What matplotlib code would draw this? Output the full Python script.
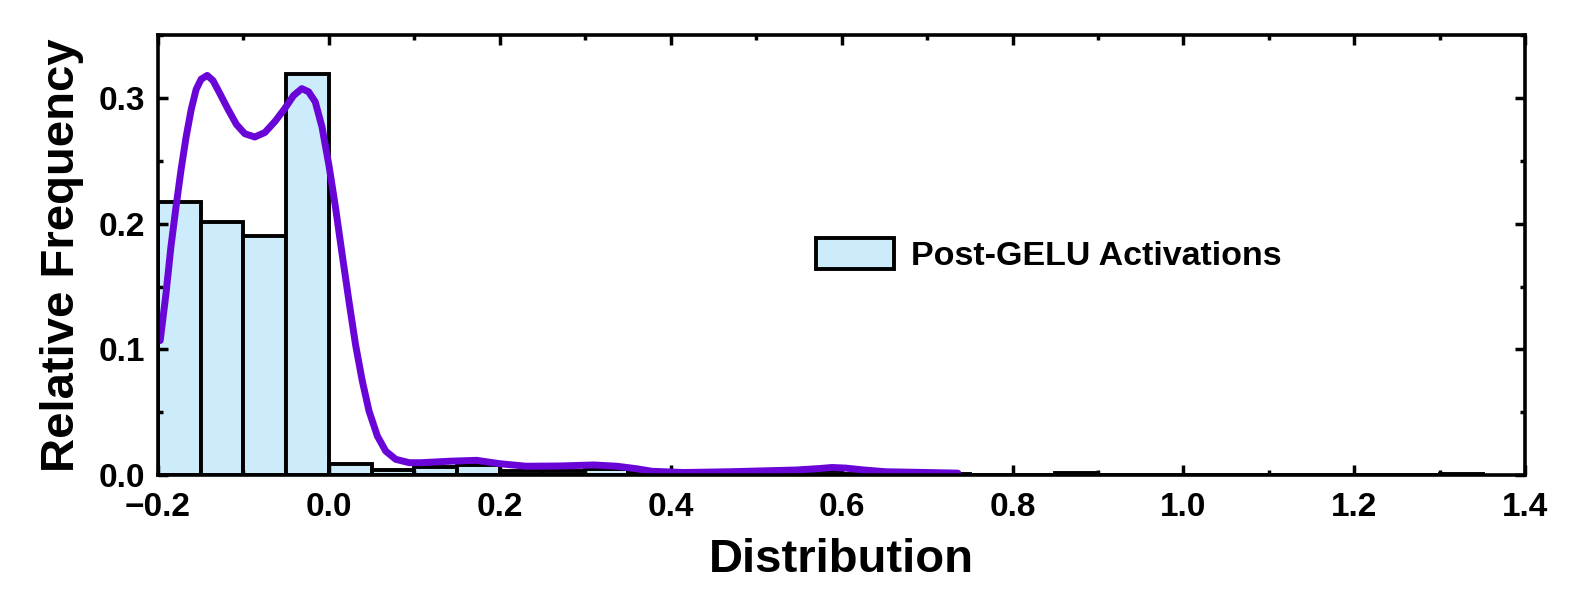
import matplotlib.pyplot as plt
import numpy as np

plt.rcParams['font.family'] = ['Liberation Sans', 'DejaVu Sans']
plt.rcParams['font.weight'] = 'bold'

# histogram bins (width 0.05) and relative frequencies
bin_edges = [-0.2, -0.15, -0.1, -0.05, 0.0, 0.05, 0.1, 0.15, 0.2, 0.25, 0.3, 0.35,
             0.4, 0.45, 0.5, 0.55, 0.6, 0.65, 0.7, 0.75, 0.8, 0.85, 0.9, 0.95,
             1.0, 1.05, 1.1, 1.15, 1.2, 1.25, 1.3, 1.35]
rel_freq = [0.2175, 0.2015, 0.190, 0.3195, 0.0085, 0.004, 0.006, 0.0077, 0.0032, 0.003, 0.0045,
            0.002, 0.001, 0.001, 0.001, 0.003, 0.001, 0.001, 0.001, 0.0, 0.0, 0.002, 0.0,
            0.0, 0.0, 0.0, 0.0, 0.0, 0.0, 0.0, 0.001]

# density curve
kde_x = [-0.1973, -0.1906, -0.1847, -0.1788, -0.1729, -0.167, -0.161, -0.1552, -0.1494,
         -0.1423, -0.1356, -0.1278, -0.1179, -0.1081, -0.0983, -0.0866, -0.0748, -0.063,
         -0.0512, -0.0413, -0.0316, -0.0237, -0.0159, -0.008, 0.0, 0.0077, 0.0155, 0.0234,
         0.0312, 0.0391, 0.047, 0.0568, 0.0666, 0.0783, 0.0941, 0.108, 0.142, 0.173, 0.200,
         0.231, 0.270, 0.310, 0.337, 0.360, 0.378, 0.415, 0.468, 0.547, 0.575, 0.589, 0.605,
         0.626, 0.652, 0.700, 0.736]
kde_y = [0.107, 0.144, 0.182, 0.2135, 0.243, 0.269, 0.291, 0.307, 0.315,
         0.318, 0.314, 0.304, 0.291, 0.279, 0.2716, 0.269, 0.2726, 0.2814,
         0.292, 0.302, 0.3075, 0.305, 0.297, 0.277, 0.247, 0.2135, 0.176, 0.139,
         0.104, 0.075, 0.051, 0.031, 0.019, 0.0125, 0.0098, 0.0098, 0.011, 0.0117, 0.009,
         0.007, 0.0072, 0.008, 0.007, 0.005, 0.003, 0.002, 0.0026, 0.004, 0.0052, 0.006, 0.0055,
         0.004, 0.0026, 0.002, 0.0015]

fig = plt.figure(figsize=(15.79, 5.94), dpi=100)
ax = fig.add_axes([0.1, 0.2003, 0.866, 0.7404])

ax.bar(bin_edges[:-1], rel_freq, width=np.diff(bin_edges), align='edge',
       color='#CCEBFB', edgecolor='black', linewidth=2.8, label='Post-GELU Activations')
ax.plot(kde_x, kde_y, color='#6A05D8', linewidth=5.0,
        solid_capstyle='round', solid_joinstyle='round')

ax.set_xlim(-0.2, 1.4)
ax.set_ylim(0, 0.35)
ax.set_xticks(np.arange(-0.2, 1.41, 0.2))
ax.set_xticks(np.arange(-0.2, 1.41, 0.1), minor=True)
ax.set_yticks([0.0, 0.1, 0.2, 0.3])
ax.set_yticks(np.arange(0, 0.351, 0.05), minor=True)
ax.set_xticklabels(['\u22120.2', '0.0', '0.2', '0.4', '0.6', '0.8', '1.0', '1.2', '1.4'])
ax.set_yticklabels(['0.0', '0.1', '0.2', '0.3'])

ax.tick_params(which='both', direction='in', top=True, right=True, width=2.5, labelsize=24)
ax.tick_params(which='major', length=7.5)
ax.tick_params(which='minor', length=3.6)
ax.tick_params(axis='x', which='major', pad=12)
ax.tick_params(axis='y', which='major', pad=9)
for s in ax.spines.values():
    s.set_linewidth(2.6)

ax.set_xlabel('Distribution', fontsize=34, fontweight='bold', labelpad=11)
ax.set_ylabel('Relative Frequency', fontsize=34, fontweight='bold', labelpad=11)

ax.legend(loc='center left', bbox_to_anchor=(0.481, 0.5), frameon=False, fontsize=24.5,
          handlelength=2.3, handleheight=1.0, borderpad=0, borderaxespad=0, handletextpad=0.5)

fig.savefig('out.png', dpi=100)
